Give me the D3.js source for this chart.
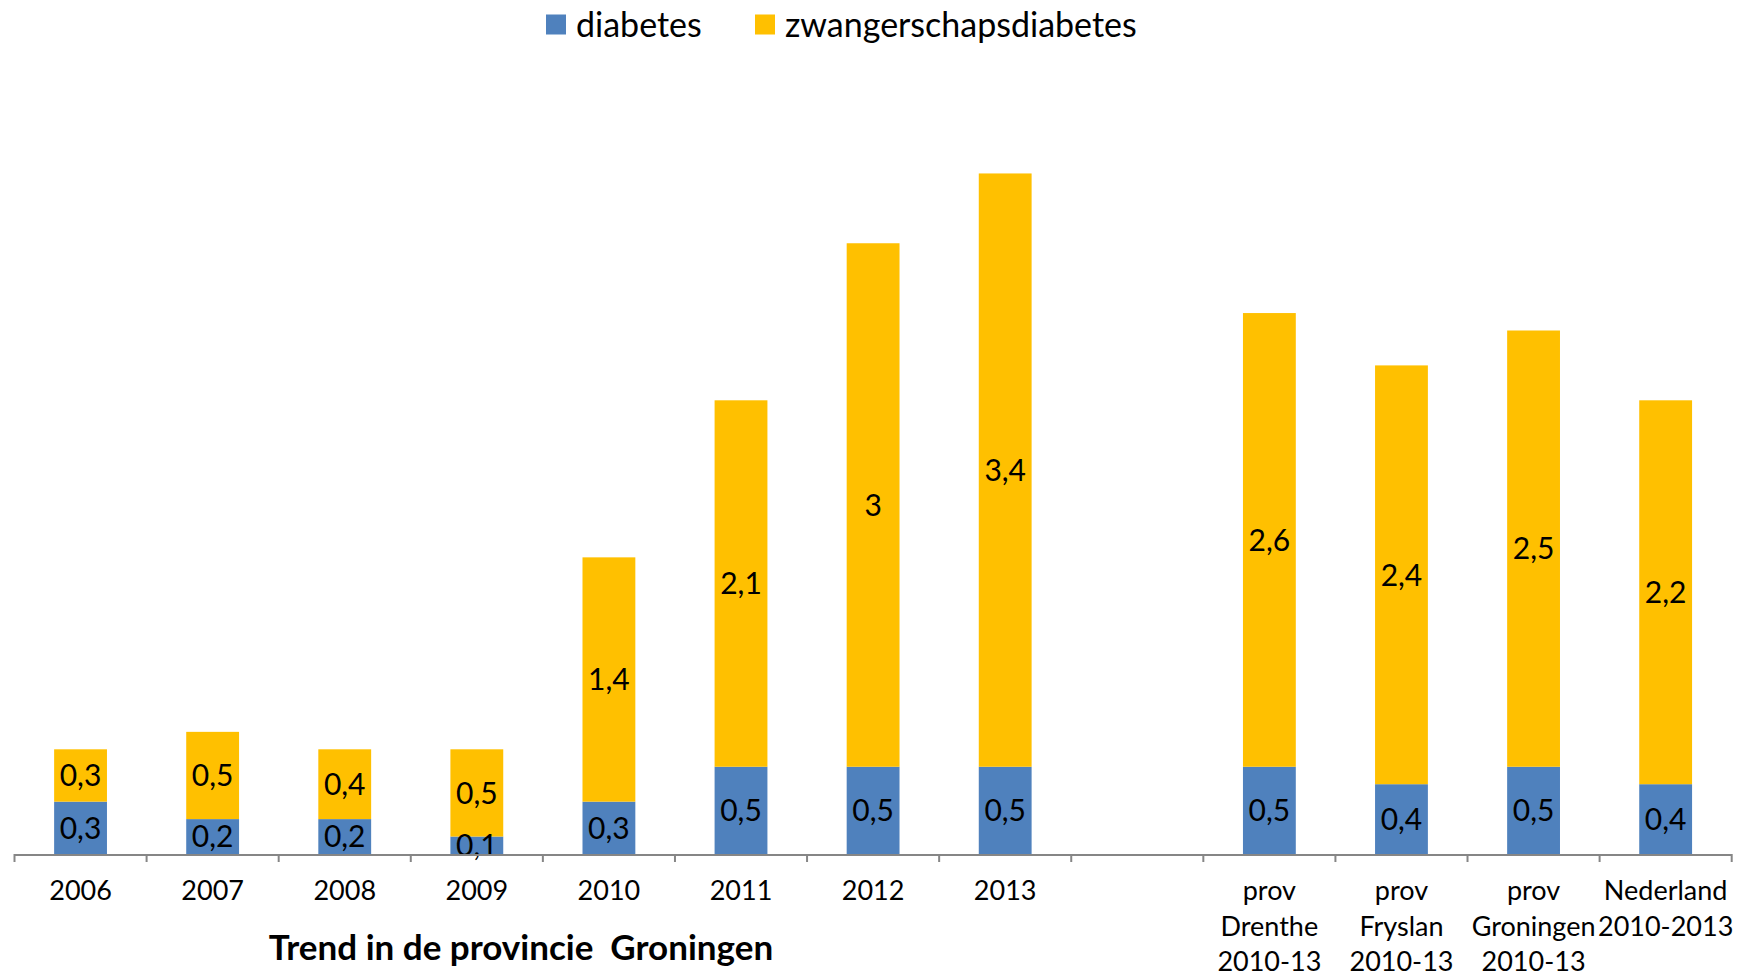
<!DOCTYPE html>
<html>
<head>
<meta charset="utf-8">
<script src="https://cdn.jsdelivr.net/npm/d3@7"></script>
<style>
  html, body { margin: 0; padding: 0; background: #ffffff; }
  svg { display: block; }
  text { font-family: Lato, "Open Sans", sans-serif; fill: #000; }
</style>
</head>
<body>
<svg id="chart" width="1744" height="977"></svg>
<script>
// ---- data ----
const categories = ["2006", "2007", "2008", "2009", "2010", "2011", "2012", "2013", "",
  "prov|Drenthe|2010-13", "prov|Fryslan|2010-13", "prov|Groningen|2010-13", "Nederland|2010-2013"];
const diabetes = [0.3, 0.2, 0.2, 0.1, 0.3, 0.5, 0.5, 0.5, null, 0.5, 0.4, 0.5, 0.4];
const zwangerschapsdiabetes = [0.3, 0.5, 0.4, 0.5, 1.4, 2.1, 3, 3.4, null, 2.6, 2.4, 2.5, 2.2];
const seriesNames = ["diabetes", "zwangerschapsdiabetes"];
const seriesColors = ["#4F81BD", "#FFC000"];
const groupTitle = "Trend in de provincie  Groningen";

// ---- layout ----
const svg = d3.select("#chart");
const left = 14.5, right = 1731.7, baseY = 854;
const pxPerUnit = 174.5;

const keys = categories.map((c, i) => "c" + i);
const x = d3.scaleBand().domain(keys).range([left, right]).paddingInner(0.6).paddingOuter(0.3);
const y = d3.scaleLinear().domain([0, 4]).range([baseY, baseY - 4 * pxPerUnit]);

const rows = keys.map((k, i) => ({ key: k, diabetes: diabetes[i] || 0, zwangerschapsdiabetes: zwangerschapsdiabetes[i] || 0, has: diabetes[i] !== null }));
const stack = d3.stack().keys(seriesNames)(rows);

const fmt = v => String(v).replace(".", ",");

stack.forEach((layer, si) => {
  const g = svg.append("g");
  layer.forEach((seg, i) => {
    if (!rows[i].has) return;
    g.append("rect")
      .attr("x", x(keys[i]))
      .attr("width", x.bandwidth())
      .attr("y", y(seg[1]))
      .attr("height", y(seg[0]) - y(seg[1]))
      .attr("fill", seriesColors[si]);
  });
});

// data labels
stack.forEach((layer, si) => {
  layer.forEach((seg, i) => {
    if (!rows[i].has) return;
    const v = rows[i][seriesNames[si]];
    svg.append("text")
      .attr("x", x(keys[i]) + x.bandwidth() / 2)
      .attr("y", (y(seg[0]) + y(seg[1])) / 2)
      .attr("dy", "0.36em")
      .attr("text-anchor", "middle")
      .style("font-size", "30px")
      .text(fmt(v));
  });
});

// axis line and ticks between categories
const axisG = svg.append("g");
axisG.append("line")
  .attr("x1", left).attr("x2", right)
  .attr("y1", baseY + 1).attr("y2", baseY + 1)
  .attr("stroke", "#868686").attr("stroke-width", 2);
const boundaries = keys.map(k => x(k) - x.step() * x.paddingOuter());
boundaries.push(right);
boundaries.forEach(bx => {
  axisG.append("line")
    .attr("x1", bx).attr("x2", bx)
    .attr("y1", baseY).attr("y2", baseY + 8)
    .attr("stroke", "#868686").attr("stroke-width", 2);
});

// category labels
keys.forEach((k, i) => {
  const lines = categories[i].split("|");
  const t = svg.append("text")
    .attr("x", x(k) + x.bandwidth() / 2)
    .attr("y", 900)
    .attr("text-anchor", "middle")
    .style("font-size", "27px");
  lines.forEach((ln, j) => {
    t.append("tspan").attr("x", x(k) + x.bandwidth() / 2).attr("dy", j === 0 ? 0 : 35.6).text(ln);
  });
});

// group title
svg.append("text")
  .attr("x", 521).attr("y", 960)
  .attr("text-anchor", "middle")
  .style("font-size", "35px").style("font-weight", "bold")
  .style("white-space", "pre")
  .attr("xml:space", "preserve")
  .text(groupTitle);

// legend
const legendItems = [{ x: 546, tx: 576 }, { x: 755, tx: 785 }];
seriesNames.forEach((name, i) => {
  svg.append("rect")
    .attr("x", legendItems[i].x).attr("y", 14.5)
    .attr("width", 20).attr("height", 20)
    .attr("fill", seriesColors[i]);
  svg.append("text")
    .attr("x", legendItems[i].tx).attr("y", 24.5)
    .attr("dy", "0.36em")
    .style("font-size", "34px")
    .text(name);
});
</script>
</body>
</html>
